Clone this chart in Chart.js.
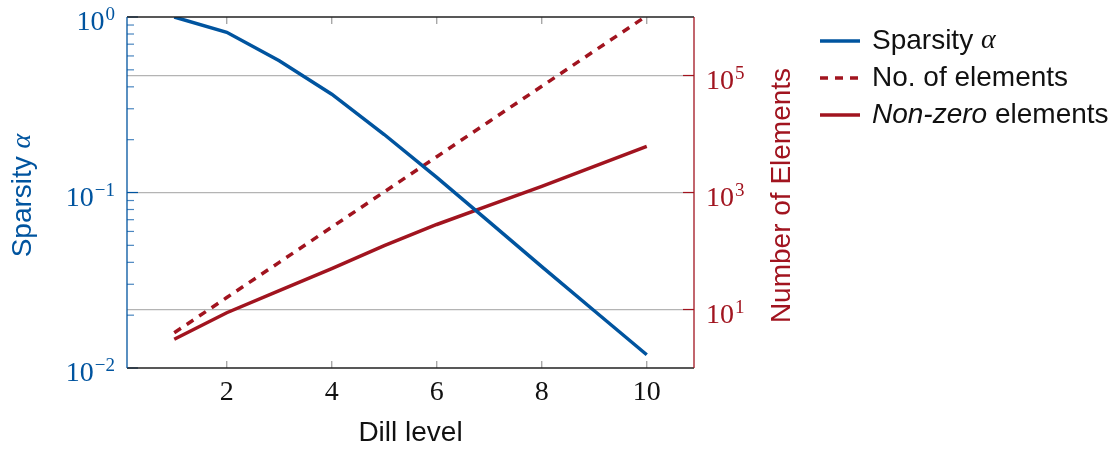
<!DOCTYPE html>
<html>
<head>
<meta charset="utf-8">
<script src="https://cdn.jsdelivr.net/npm/chart.js@4.4.0/dist/chart.umd.min.js"></script>
<style>
  html, body { margin: 0; padding: 0; background: #fff; }
  #wrap { position: relative; width: 1111px; height: 451px; }
</style>
</head>
<body>
<div id="wrap"><canvas id="chart" width="1111" height="451"></canvas></div>
<script>
// data
const dillLevels = [1, 2, 3, 4, 5, 6, 7, 8, 9, 10];
const sparsity = [1.0, 0.818, 0.563, 0.363, 0.214, 0.122, 0.068, 0.0378, 0.0212, 0.0119];
const numElements = [4, 16, 64, 256, 1024, 4096, 16384, 65536, 262144, 1048576];
const nonZeroElements = [3.1, 8.8, 21, 50, 124, 284, 600, 1270, 2800, 6160];

const xTicks = [2, 4, 6, 8, 10];
const leftDecades = [0.01, 0.1, 1];
const rightTicks = [10, 1000, 100000];

const BLUE = '#00549f';
const RED = '#a1141f';
const SANS = '"Liberation Sans", Arial, sans-serif';
const SERIF = '"Liberation Serif", "Times New Roman", serif';

function exponentOf(v) {
  const l = Math.log10(v);
  const e = Math.round(l);
  return Math.abs(l - e) > 1e-6 ? null : e;
}

// left axis ticks: every 1..9 inside each decade
const leftTicks = [];
leftDecades.forEach((d, i) => {
  if (i === leftDecades.length - 1) { leftTicks.push(d); return; }
  for (let m = 1; m <= 9; m++) leftTicks.push(+(m * d).toPrecision(3));
});

// legend entries
const legendItems = [
  { parts: [['Sparsity ', SANS, ''], ['α', SERIF, 'italic ']], color: BLUE, dash: [] },
  { parts: [['No. of elements', SANS, '']], color: RED, dash: [8, 7] },
  { parts: [['Non-zero', SANS, 'italic '], [' elements', SANS, '']], color: RED, dash: [] }
];

function drawParts(ctx, parts, x, y, size, color, align) {
  ctx.fillStyle = color;
  ctx.textBaseline = 'middle';
  ctx.textAlign = 'left';
  let total = 0;
  parts.forEach(([t, f, s]) => { ctx.font = s + size + 'px ' + f; total += ctx.measureText(t).width; });
  let cx = align === 'center' ? x - total / 2 : x;
  parts.forEach(([t, f, s]) => {
    ctx.font = s + size + 'px ' + f;
    ctx.fillText(t, cx, y);
    cx += ctx.measureText(t).width;
  });
}

// "10" with a raised exponent
function drawPow(ctx, e, x, y, color, align) {
  const base = '10', ex = String(e).replace('-', '−');
  ctx.fillStyle = color;
  ctx.textBaseline = 'alphabetic';
  ctx.textAlign = 'left';
  ctx.font = '28px ' + SERIF;
  const wb = ctx.measureText(base).width;
  ctx.font = '19px ' + SERIF;
  const we = ctx.measureText(ex).width;
  const x0 = align === 'right' ? x - wb - we - 1 : x;
  ctx.font = '28px ' + SERIF;
  ctx.fillText(base, x0, y + 13);
  ctx.font = '19px ' + SERIF;
  ctx.fillText(ex, x0 + wb + 1, y + 3);
}

const decor = {
  id: 'decor',
  afterDraw(chart) {
    const { ctx, chartArea: a, scales } = chart;
    ctx.save();
    // inner tick marks on x axis (top and bottom)
    ctx.strokeStyle = '#9a9a9a';
    ctx.lineWidth = 1.2;
    xTicks.forEach(v => {
      const px = scales.x.getPixelForValue(v);
      ctx.beginPath();
      ctx.moveTo(px, a.bottom); ctx.lineTo(px, a.bottom - 7);
      ctx.moveTo(px, a.top); ctx.lineTo(px, a.top + 7);
      ctx.stroke();
    });
    // left ticks (major + minor) and labels
    scales.yL.ticks.forEach(t => {
      const py = scales.yL.getPixelForValue(t.value);
      const e = exponentOf(t.value);
      ctx.strokeStyle = e !== null ? BLUE : '#4a86c0';
      ctx.beginPath();
      ctx.moveTo(a.left, py); ctx.lineTo(a.left + (e !== null ? 11 : 7), py);
      ctx.stroke();
      if (e !== null) drawPow(ctx, e, a.left - 12, py, BLUE, 'right');
    });
    // right ticks and labels
    scales.yR.ticks.forEach(t => {
      const py = scales.yR.getPixelForValue(t.value);
      ctx.strokeStyle = RED;
      ctx.beginPath();
      ctx.moveTo(a.right, py); ctx.lineTo(a.right - 11, py);
      ctx.stroke();
      drawPow(ctx, exponentOf(t.value), a.right + 12, py, RED, 'left');
    });
    // frame
    ctx.lineWidth = 1.3;
    ctx.strokeStyle = '#222';
    ctx.beginPath();
    ctx.moveTo(a.left, a.top); ctx.lineTo(a.right, a.top);
    ctx.moveTo(a.left, a.bottom); ctx.lineTo(a.right, a.bottom);
    ctx.stroke();
    ctx.strokeStyle = BLUE;
    ctx.beginPath(); ctx.moveTo(a.left, a.top); ctx.lineTo(a.left, a.bottom); ctx.stroke();
    ctx.strokeStyle = RED;
    ctx.beginPath(); ctx.moveTo(a.right, a.top); ctx.lineTo(a.right, a.bottom); ctx.stroke();

    // vertical axis titles
    const cy = (a.top + a.bottom) / 2 + 3;
    ctx.save();
    ctx.translate(a.left - 104, cy);
    ctx.rotate(-Math.PI / 2);
    drawParts(ctx, [['Sparsity ', SANS, ''], ['α', SERIF, 'italic ']], 0, 0, 28, BLUE, 'center');
    ctx.restore();
    ctx.save();
    ctx.translate(a.right + 88, cy);
    ctx.rotate(-Math.PI / 2);
    drawParts(ctx, [['Number of Elements', SANS, '']], 0, 0, 28, RED, 'center');
    ctx.restore();

    // legend
    const lx = a.right + 126;
    legendItems.forEach((it, i) => {
      const ly = 41 + i * 37;
      ctx.strokeStyle = it.color;
      ctx.lineWidth = 3.5;
      ctx.setLineDash(it.dash);
      ctx.beginPath(); ctx.moveTo(lx, ly); ctx.lineTo(lx + 40, ly); ctx.stroke();
      ctx.setLineDash([]);
      drawParts(ctx, it.parts, lx + 52, ly, 28, '#111', 'left');
    });
    ctx.restore();
  }
};

function pts(ys) { return dillLevels.map((x, i) => ({ x, y: ys[i] })); }
function noPad(s) { s.paddingTop = 0; s.paddingBottom = 0; s.paddingLeft = 0; s.paddingRight = 0; }

new Chart(document.getElementById('chart'), {
  type: 'line',
  data: {
    datasets: [
      { label: 'Sparsity α', data: pts(sparsity), yAxisID: 'yL',
        borderColor: BLUE, borderWidth: 3.5, pointRadius: 0, tension: 0, fill: false },
      { label: 'No. of elements', data: pts(numElements), yAxisID: 'yR',
        borderColor: RED, borderWidth: 3.5, borderDash: [8, 7], pointRadius: 0, tension: 0, fill: false },
      { label: 'Non-zero elements', data: pts(nonZeroElements), yAxisID: 'yR',
        borderColor: RED, borderWidth: 3.5, pointRadius: 0, tension: 0, fill: false }
    ]
  },
  options: {
    responsive: false,
    animation: false,
    layout: { padding: { left: 0, right: 297, top: 17, bottom: 0 } },
    plugins: { legend: { display: false }, tooltip: { enabled: false } },
    scales: {
      x: {
        type: 'linear', min: 0.1, max: 10.9,
        afterBuildTicks: s => { s.ticks = xTicks.map(v => ({ value: v })); },
        afterFit: s => { s.height = 83; noPad(s); },
        grid: { display: false, drawTicks: false },
        border: { display: false },
        ticks: { color: '#111', padding: 8, font: { family: SERIF, size: 28 }, maxRotation: 0 },
        title: { display: true, text: 'Dill level', color: '#111',
                 font: { family: SANS, size: 28 }, padding: { top: 0, bottom: 1 } }
      },
      yL: {
        type: 'logarithmic', position: 'left', min: 0.01, max: 1,
        afterBuildTicks: s => { s.ticks = leftTicks.map(v => ({ value: v })); },
        afterFit: s => { s.width = 127; noPad(s); },
        grid: { display: false, drawTicks: false },
        border: { display: false },
        ticks: { display: false }
      },
      yR: {
        type: 'logarithmic', position: 'right', min: 1, max: 1e6,
        afterBuildTicks: s => { s.ticks = rightTicks.map(v => ({ value: v })); },
        afterFit: s => { s.width = 120; noPad(s); },
        grid: { display: true, drawOnChartArea: true, drawTicks: false, color: '#b4b4b4', lineWidth: 1.3 },
        border: { display: false },
        ticks: { display: false }
      }
    }
  },
  plugins: [decor]
});
</script>
</body>
</html>
